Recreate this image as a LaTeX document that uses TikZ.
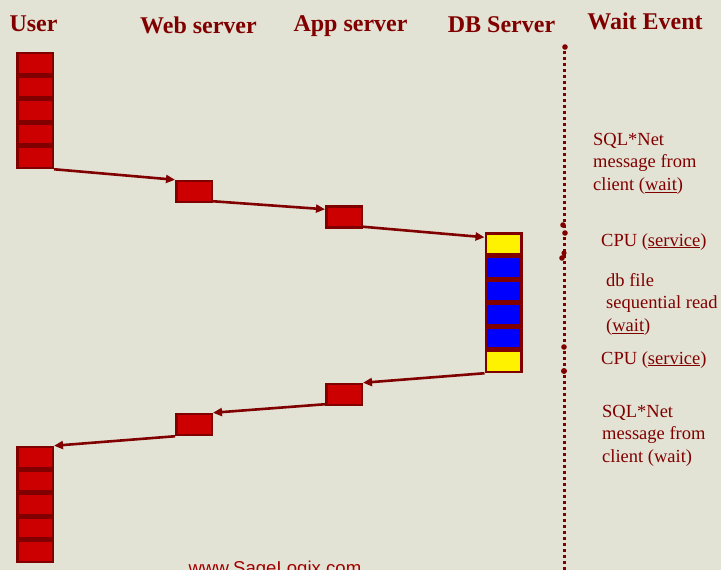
\documentclass[tikz,border=0pt]{standalone}
\usepackage{fontspec}
\setmainfont{Liberation Serif}
\setsansfont{Liberation Sans}
\usetikzlibrary{arrows.meta,positioning}
\definecolor{bgc}{HTML}{E3E3D5}
\definecolor{dred}{HTML}{800000}
\definecolor{boxred}{HTML}{CC0000}
\definecolor{webred}{HTML}{A00000}
\tikzset{
  hdr/.style  ={font=\bfseries\fontsize{24}{28}\selectfont, text=dred, inner sep=0pt, anchor=base},
  evt/.style  ={font=\fontsize{18.5}{22.5}\selectfont, text=dred, align=left, inner sep=0pt, anchor=north west},
  req/.style  ={draw=dred, line width=2.5pt, fill=boxred, minimum width=35.5pt, minimum height=21pt, inner sep=0pt},
  cpu/.style  ={req, fill=yellow},
  dbio/.style ={req, fill=blue},
  flow/.style ={-{Triangle[length=9pt,width=8pt]}, line width=2.6pt, draw=dred},
  tline/.style={draw=dred, line width=3pt, dash pattern=on 3pt off 3pt},
}

\begin{document}
\begin{tikzpicture}[x=1pt, y=-1pt, node distance=0pt]

  \clip (0,0) rectangle (721,570);
  \fill[bgc] (0,0) rectangle (721,570);

  % ---- column headers ----
  \node[hdr] (huser) at (33.5,31) {User};
  \node[hdr] (hweb)  at (198.5,33) {Web server};
  \node[hdr] (happ)  at (350.5,31) {App server};
  \node[hdr] (hdb)   at (501.5,32) {DB Server};
  \node[hdr] (hwait) at (645,30) {Wait Event};

  % ---- request going in ----
  \node[req] (u1) at (35,63.5) {};
  \node[req, below=of u1] (u2) {};
  \node[req, below=of u2] (u3) {};
  \node[req, below=of u3] (u4) {};
  \node[req, below=of u4] (u5) {};
  \node[req] (w1) at (194,191.5) {};
  \node[req] (a1) at (344,217) {};

  % ---- work in the database ----
  \node[cpu] (d1) at (503.5,244) {};
  \node[dbio, below=of d1] (d2) {};
  \node[dbio, below=of d2] (d3) {};
  \node[dbio, below=of d3] (d4) {};
  \node[dbio, below=of d4] (d5) {};
  \node[cpu, below=of d5] (d6) {};

  % ---- answer coming back ----
  \node[req] (a2) at (344,394.5) {};
  \node[req] (w2) at (194,424.5) {};
  \node[req] (r1) at (35,457.5) {};
  \node[req, below=of r1] (r2) {};
  \node[req, below=of r2] (r3) {};
  \node[req, below=of r3] (r4) {};
  \node[req, below=of r4] (r5) {};

  \draw[flow] (u5.south east) -- (w1.north west);
  \draw[flow] ([yshift=2pt]w1.south east) -- ([yshift=-4pt]a1.north west);
  \draw[flow] ([yshift=2pt]a1.south east) -- ([yshift=-5pt]d1.north west);
  \draw[flow] (d6.south west) -- (a2.north east);
  \draw[flow] ([yshift=2pt]a2.south west) -- (w2.north east);
  \draw[flow] (w2.south west) -- (r1.north east);

  % ---- time line of wait events ----
  \coordinate (ttop) at (564,45);
  \coordinate (tbot) at (564,575);
  \draw[tline] (ttop) -- (tbot);
  \fill[dred] (565,47) circle (2.8pt) (563,225) circle (2.8pt) (565,233) circle (2.8pt)
              (564,253) circle (2.6pt) (562,258) circle (2.8pt) (564,347) circle (2.8pt)
              (564,371) circle (3pt);

  \node[evt] (e1) at (593,133) {SQL*Net\\message from\\client (\underline{wait})};
  \node[evt] (e2) at (601,233) {CPU (\underline{service})};
  \node[evt] (e3) at (606,273) {db file\\sequential read\\(\underline{wait})};
  \node[evt] (e4) at (601,351) {CPU (\underline{service})};
  \node[evt] (e5) at (602,405) {SQL*Net\\message from\\client (wait)};

  \node[font=\sffamily\fontsize{18.6}{20}\selectfont, text=webred, inner sep=0pt, anchor=base] (site) at (275,574) {www.SageLogix.com};
\end{tikzpicture}
\end{document}
